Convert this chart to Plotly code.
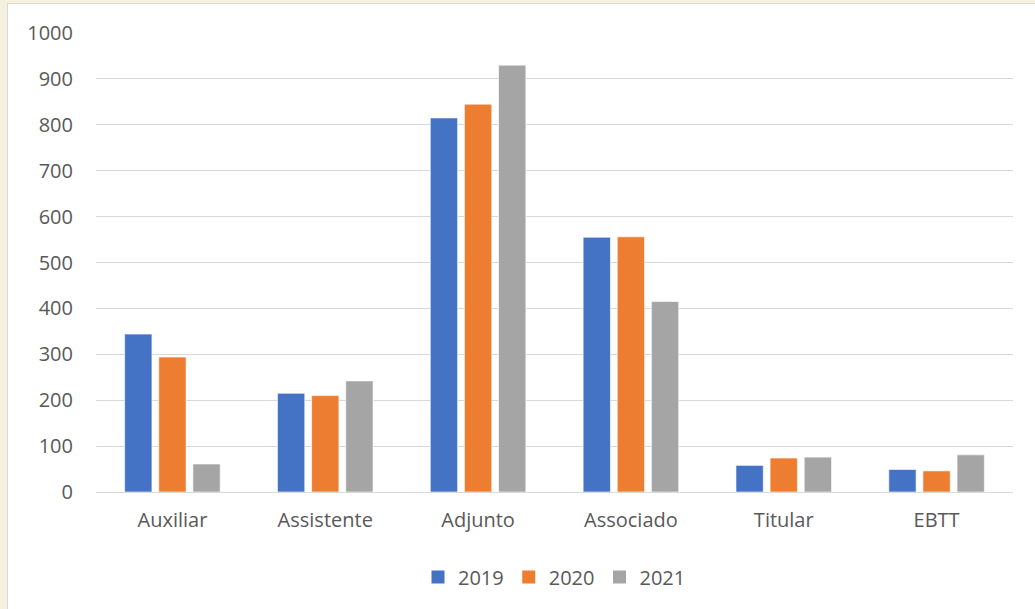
import plotly.graph_objects as go

categories = ["Auxiliar", "Assistente", "Adjunto", "Associado", "Titular", "EBTT"]
years = ["2019", "2020", "2021"]
v2019 = [344, 215, 815, 555, 58, 49]
v2020 = [294, 210, 845, 556, 74, 46]
v2021 = [61, 242, 930, 415, 76, 81]
y_ticks = [0, 100, 200, 300, 400, 500, 600, 700, 800, 900, 1000]

colors = ["#4472C4", "#ED7D31", "#A5A5A5"]
W, H = 1035, 609
ML, MR, MT, MB = 96, 22, 33, 117
pw, ph = W - ML - MR, H - MT - MB

def px_x(p):
    return (p - ML) / pw

def px_y(p):
    return 1 - (p - MT) / ph

fig = go.Figure()
for name, vals, c in zip(years, [v2019, v2020, v2021], colors):
    fig.add_trace(go.Bar(x=categories, y=vals, name=name, showlegend=False, legendgroup=name,
                         marker=dict(color=c, line=dict(color="rgba(255,255,255,0.6)", width=1))))
# legend proxies (square markers, no data)
for name, c in zip(years, colors):
    fig.add_trace(go.Scatter(x=[None], y=[None], mode="markers", name=name, legendgroup=name,
                             marker=dict(symbol="square", size=13, color=c)))

font_family = "'Open Sans', 'Noto Sans', sans-serif"
fig.update_layout(
    width=W, height=H,
    margin=dict(l=ML, r=MR, t=MT, b=MB),
    paper_bgcolor="#F6F0DF",
    plot_bgcolor="white",
    barmode="group",
    bargap=0.33,
    bargroupgap=0.2,
    font=dict(family=font_family, size=20, color="#595959"),
    showlegend=True,
    legend=dict(orientation="h", x=0.5, xanchor="center", y=px_y(577), yanchor="middle",
                bgcolor="rgba(0,0,0,0)", font=dict(size=20, color="#595959"),
                itemwidth=30, traceorder="normal", itemclick=False, itemdoubleclick=False),
    xaxis=dict(showgrid=False, showline=False, ticks="", tickfont=dict(size=20),
               ticklabelstandoff=14),
    yaxis=dict(range=[0, 1000], tickvals=y_ticks, showgrid=True, gridcolor="#D9D9D9",
               gridwidth=1, zeroline=True, zerolinecolor="#D9D9D9", zerolinewidth=1,
               ticks="", tickfont=dict(size=20), ticklabelstandoff=22),
    shapes=[
        dict(type="rect", xref="paper", yref="paper", layer="below",
             x0=px_x(7.5), x1=px_x(W + 5), y0=px_y(H + 5), y1=px_y(3.5),
             fillcolor="white", line=dict(color="#D9D9D9", width=1)),
    ],
)
fig.write_html("out.html")
